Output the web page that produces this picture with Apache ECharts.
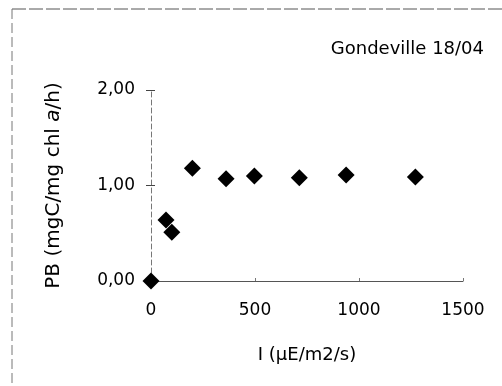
<!DOCTYPE html>
<html>
<head>
<meta charset="utf-8">
<script src="https://cdn.jsdelivr.net/npm/echarts@6/dist/echarts.min.js"></script>
<style>
html,body{margin:0;padding:0;background:#fff;}
#c{width:502px;height:386px;}
</style>
</head>
<body>
<div id="c"></div>
<script>
// Data
const irradiance = [0, 72, 100, 199, 361, 497, 713, 938, 1271];
const pbValues   = [0.00, 0.64, 0.51, 1.18, 1.07, 1.10, 1.08, 1.11, 1.09];
const xTicks = [0, 500, 1000, 1500];
const yTicks = [0, 1, 2];
const titleText = 'Gondeville 18/04';
const xName = 'I (µE/m2/s)';

const font = 'DejaVu Sans';
const points = irradiance.map((x, i) => [x, pbValues[i]]);

const chart = echarts.init(document.getElementById('c'), null, {renderer: 'canvas'});
chart.setOption({
  animation: false,
  backgroundColor: '#fff',
  title: {
    text: titleText,
    right: 13,
    top: 35,
    textStyle: {fontFamily: font, fontSize: 18, fontWeight: 'normal', color: '#000'}
  },
  grid: {left: 151, right: 39, top: 90, bottom: 105, containLabel: false},
  xAxis: {
    type: 'value',
    min: xTicks[0],
    max: xTicks[xTicks.length - 1],
    interval: 500,
    name: xName,
    nameLocation: 'middle',
    nameGap: 65,
    nameTextStyle: {fontFamily: font, fontSize: 18, color: '#000'},
    axisLine: {show: true, onZero: false, lineStyle: {color: '#555', width: 1}},
    axisTick: {show: true, inside: true, length: 3, lineStyle: {color: '#777'}},
    axisLabel: {fontFamily: font, fontSize: 17, color: '#000', margin: 21,
      formatter: v => String(v)},
    splitLine: {show: false}
  },
  yAxis: [{
    type: 'value',
    min: yTicks[0],
    max: yTicks[yTicks.length - 1],
    interval: 1,
    name: '{n|PB (mgC/mg chl }{i|a}{n|/h)}',
    nameLocation: 'middle',
    nameRotate: 90,
    nameGap: 87,
    nameTextStyle: {
      rich: {
        n: {fontFamily: font, fontSize: 20, color: '#000'},
        i: {fontFamily: font, fontSize: 20, fontStyle: 'italic', color: '#000'}
      }
    },
    axisLine: {show: true, onZero: false, lineStyle: {color: '#777', width: 1, type: [5, 3]}},
    axisTick: {show: true, length: 5, lineStyle: {color: '#444'}},
    axisLabel: {fontFamily: font, fontSize: 17, color: '#000', margin: 16,
      formatter: v => v.toFixed(2).replace('.', ',')},
    splitLine: {show: false}
  }, {
    type: 'value',
    position: 'left',
    min: yTicks[0],
    max: yTicks[yTicks.length - 1],
    interval: 1,
    axisLine: {show: false},
    axisTick: {show: true, inside: true, length: 4, lineStyle: {color: '#444'}},
    axisLabel: {show: false},
    splitLine: {show: false}
  }],
  graphic: [
    {type: 'line', shape: {x1: 12, y1: 9, x2: 502, y2: 9}, style: {stroke: '#555', lineWidth: 1, lineDash: [14, 3]}, silent: true},
    {type: 'line', shape: {x1: 12, y1: 9, x2: 12, y2: 386}, style: {stroke: '#777', lineWidth: 1, lineDash: [10, 4]}, silent: true}
  ],
  series: [{
    type: 'scatter',
    xAxisIndex: 0,
    yAxisIndex: 0,
    data: points,
    symbol: 'diamond',
    symbolSize: [17, 17],
    itemStyle: {color: '#000', opacity: 1},
    clip: false,
    z: 5
  }]
});
</script>
</body>
</html>
